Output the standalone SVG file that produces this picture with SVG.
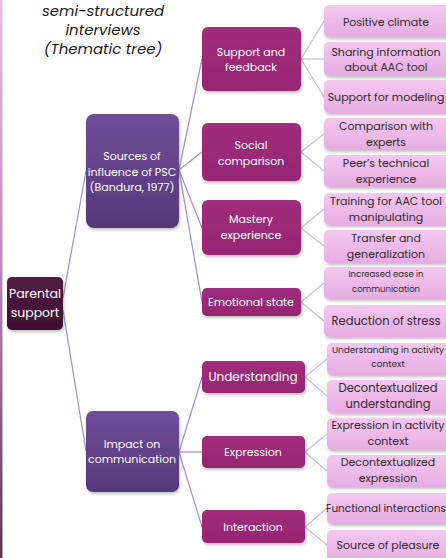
<svg xmlns="http://www.w3.org/2000/svg" width="446" height="558" viewBox="0 0 446 558">
<defs>
<linearGradient id="strip" x1="0" y1="0" x2="0" y2="1"><stop offset="0" stop-color="#e6bfe6"/><stop offset="0.5" stop-color="#b889b4"/><stop offset="1" stop-color="#5c3556"/></linearGradient>
<linearGradient id="gRoot" x1="0" y1="0" x2="0" y2="1"><stop offset="0" stop-color="#521d43"/><stop offset="1" stop-color="#3d0f30"/></linearGradient>
<linearGradient id="gL1" x1="0" y1="0" x2="0" y2="1"><stop offset="0" stop-color="#714d99"/><stop offset="1" stop-color="#563879"/></linearGradient>
<linearGradient id="gL2" x1="0" y1="0" x2="0" y2="1"><stop offset="0" stop-color="#a02d7b"/><stop offset="1" stop-color="#962672"/></linearGradient>
<linearGradient id="gLeaf" x1="0" y1="0" x2="0" y2="1"><stop offset="0" stop-color="#f3c8ef"/><stop offset="1" stop-color="#e7ace3"/></linearGradient>
<filter id="sh" x="-20%" y="-20%" width="150%" height="160%"><feDropShadow dx="1" dy="2" stdDeviation="1.6" flood-color="#000" flood-opacity="0.25"/></filter>
</defs>
<style>
.root{fill:url(#gRoot);filter:url(#sh)}
.l1{fill:url(#gL1);filter:url(#sh)}
.l2{fill:url(#gL2);filter:url(#sh)}
.leaf{fill:url(#gLeaf);filter:url(#sh)}
text{font-family:"Poppins","Noto Sans","Open Sans",sans-serif;text-anchor:middle}
.w{fill:#ffffff;font-size:11px}
.d{fill:#33292f;font-size:11px}
.title{fill:#1a1a1a;font-size:15px;font-style:italic}
.c1{stroke:#a497cc;stroke-width:1.3;fill:none}
.c2{stroke:#c9c1dd;stroke-width:1.3;fill:none}
</style>
<rect width="446" height="558" fill="#ffffff"/>
<rect x="0" y="0" width="2.5" height="558" fill="url(#strip)"/>
<g id="title">
<text class="title" x="103" y="16">semi-structured</text>
<text class="title" x="103" y="35">interviews</text>
<text class="title" x="103" y="54">(Thematic tree)</text>
</g>
<g id="connectors">
<line class="c1" x1="63" y1="298" x2="86" y2="171"/>
<line class="c1" x1="63" y1="310" x2="86" y2="451"/>
<line class="c1" x1="179" y1="170" x2="202" y2="59"/>
<line class="c1" x1="179" y1="170" x2="202" y2="152"/>
<line class="c1" x1="179" y1="170" x2="202" y2="228"/>
<line class="c1" x1="179" y1="170" x2="202" y2="302"/>
<line class="c1" x1="179" y1="452" x2="202" y2="377"/>
<line class="c1" x1="179" y1="452" x2="202" y2="452"/>
<line class="c1" x1="179" y1="452" x2="202" y2="527"/>
<line class="c2" x1="301" y1="59" x2="324" y2="21"/>
<line class="c2" x1="301" y1="59" x2="324" y2="59"/>
<line class="c2" x1="301" y1="59" x2="324" y2="97"/>
<line class="c2" x1="301" y1="152" x2="324" y2="134"/>
<line class="c2" x1="301" y1="152" x2="324" y2="171"/>
<line class="c2" x1="301" y1="228" x2="324" y2="209"/>
<line class="c2" x1="301" y1="228" x2="324" y2="246"/>
<line class="c2" x1="301" y1="302" x2="324" y2="283"/>
<line class="c2" x1="301" y1="302" x2="324" y2="321"/>
<line class="c2" x1="305" y1="377" x2="327" y2="359"/>
<line class="c2" x1="305" y1="377" x2="327" y2="396"/>
<line class="c2" x1="305" y1="452" x2="327" y2="434"/>
<line class="c2" x1="305" y1="452" x2="327" y2="471"/>
<line class="c2" x1="305" y1="527" x2="327" y2="508"/>
<line class="c2" x1="305" y1="527" x2="327" y2="545"/>
</g>
<g id="n-parental"><rect class="root" x="7" y="277" width="56" height="53" rx="5"/><text class="w" style="font-size:12.5px" x="35" y="298">Parental</text><text class="w" style="font-size:12.5px" x="35" y="317">support</text></g>
<g id="n-sources"><rect class="l1" x="86" y="114" width="93" height="114" rx="8"/><text class="w" x="132" y="160">Sources of</text><text class="w" x="132" y="176">influence of PSC</text><text class="w" x="132" y="191">(Bandura, 1977)</text></g>
<g id="n-impact"><rect class="l1" x="86" y="411" width="93" height="81" rx="7"/><text class="w" x="132" y="448">Impact on</text><text class="w" x="132" y="463">communication</text></g>
<g id="n-support"><rect class="l2" x="202" y="27" width="99" height="64" rx="6"/><text class="w" x="251" y="56">Support and</text><text class="w" x="251" y="71">feedback</text></g>
<g id="n-social"><rect class="l2" x="202" y="123" width="99" height="58" rx="6"/><text class="w" x="251" y="149">Social</text><text class="w" x="251" y="165">comparison</text></g>
<g id="n-mastery"><rect class="l2" x="202" y="200" width="99" height="55" rx="6"/><text class="w" x="251" y="223">Mastery</text><text class="w" x="251" y="239">experience</text></g>
<g id="n-emotional"><rect class="l2" x="202" y="288" width="99" height="28" rx="5"/><text class="w" x="251" y="306">Emotional state</text></g>
<g id="n-understanding"><rect class="l2" x="202" y="361" width="103" height="32" rx="5"/><text class="w" style="font-size:12px" x="253" y="381">Understanding</text></g>
<g id="n-expression"><rect class="l2" x="202" y="436" width="103" height="32" rx="5"/><text class="w" x="253" y="456">Expression</text></g>
<g id="n-interaction"><rect class="l2" x="202" y="510" width="103" height="33" rx="5"/><text class="w" x="253" y="531">Interaction</text></g>
<g id="leaf-positive"><rect class="leaf" x="324" y="5" width="130" height="32" rx="5"/><text class="d" x="386" y="26">Positive climate</text></g>
<g id="leaf-sharing"><rect class="leaf" x="324" y="42" width="130" height="34" rx="5"/><text class="d" x="386" y="56">Sharing information</text><text class="d" x="386" y="71">about AAC tool</text></g>
<g id="leaf-modeling"><rect class="leaf" x="324" y="80" width="130" height="33" rx="5"/><text class="d" x="386" y="101">Support for modeling</text></g>
<g id="leaf-comparison"><rect class="leaf" x="324" y="118" width="130" height="32" rx="5"/><text class="d" x="386" y="130">Comparison with</text><text class="d" x="386" y="146">experts</text></g>
<g id="leaf-peer"><rect class="leaf" x="324" y="155" width="130" height="32" rx="5"/><text class="d" x="386" y="167">Peer’s technical</text><text class="d" x="386" y="183">experience</text></g>
<g id="leaf-training"><rect class="leaf" x="324" y="193" width="130" height="32" rx="5"/><text class="d" x="386" y="205">Training for AAC tool</text><text class="d" x="386" y="221">manipulating</text></g>
<g id="leaf-transfer"><rect class="leaf" x="324" y="230" width="130" height="33" rx="5"/><text class="d" x="386" y="242">Transfer and</text><text class="d" x="386" y="258">generalization</text></g>
<g id="leaf-ease"><rect class="leaf" x="324" y="267" width="130" height="32" rx="5"/><text class="d" style="font-size:8.5px" x="386" y="277">Increased ease in</text><text class="d" style="font-size:8.5px" x="386" y="292">communication</text></g>
<g id="leaf-stress"><rect class="leaf" x="324" y="305" width="130" height="32" rx="5"/><text class="d" style="font-size:11.5px" x="386" y="325">Reduction of stress</text></g>
<g id="leaf-und-activity"><rect class="leaf" x="327" y="343" width="130" height="32" rx="5"/><text class="d" style="font-size:9px" x="388" y="353">Understanding in activity</text><text class="d" style="font-size:9px" x="388" y="367">context</text></g>
<g id="leaf-und-decon"><rect class="leaf" x="327" y="380" width="130" height="33" rx="5"/><text class="d" style="font-size:11.5px" x="388" y="392">Decontextualized</text><text class="d" style="font-size:11.5px" x="388" y="408">understanding</text></g>
<g id="leaf-exp-activity"><rect class="leaf" x="327" y="418" width="130" height="32" rx="5"/><text class="d" x="388" y="429">Expression in activity</text><text class="d" x="388" y="445">context</text></g>
<g id="leaf-exp-decon"><rect class="leaf" x="327" y="455" width="130" height="32" rx="5"/><text class="d" x="388" y="466">Decontextualized</text><text class="d" x="388" y="482">expression</text></g>
<g id="leaf-functional"><rect class="leaf" x="327" y="493" width="130" height="31" rx="5"/><text class="d" style="font-size:10.5px" x="386" y="512">Functional interactions</text></g>
<g id="leaf-pleasure"><rect class="leaf" x="327" y="530" width="130" height="32" rx="5"/><text class="d" x="388" y="549">Source of pleasure</text></g>
</svg>
